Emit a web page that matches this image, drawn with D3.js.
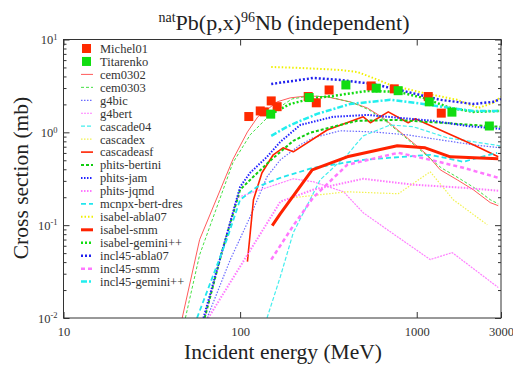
<!DOCTYPE html>
<html><head><meta charset="utf-8">
<script src="https://cdn.jsdelivr.net/npm/d3@7"></script>
<style>body{margin:0;background:#fff;} svg{display:block;} text{font-family:"Liberation Serif",serif;}</style>
</head><body>
<svg id="c" width="513" height="367"></svg>
<script>
// ---- data (energy MeV, cross section mb) ----
const michel01 = [[112,1.48],[130,1.70],[137,1.66],[150,2.18],[162,1.89],[243,2.43],[270,2.08],[319,2.86],[552,3.16],[746,2.94],[1162,2.43],[1377,1.61]];
const titarenko = [[149,1.57],[246,2.37],[397,3.24],[590,2.99],[785,2.81],[1178,2.13],[1582,1.65],[2577,1.17]];
const cem0302 = [[47,0.01],[59,0.070],[91,0.51],[110,1.01],[126,1.47],[162,2.13],[192,2.35],[240,2.47],[311,2.41],[420,2.13],[525,1.83],[646,1.43],[883,0.873],[1146,0.573],[1358,0.395],[1695,0.308],[2089,0.241],[2608,0.175],[2895,0.162]];
const cem0303 = [[49,0.01],[59,0.048],[91,0.47],[114,0.94],[142,1.43],[175,1.98],[197,2.29],[249,2.47],[320,2.41],[435,2.08],[535,1.75],[655,1.36],[895,0.83],[1161,0.545],[1376,0.415],[1718,0.324],[2118,0.253],[2608,0.188],[2895,0.170]];
const g4bic = [[65,0.01],[88,0.0426],[114,0.123],[142,0.332],[169,0.506],[219,0.734],[259,0.873],[369,1.04],[568,1.01],[883,0.94],[1358,0.83],[2089,0.734],[2972,0.681]];
const g4bert = [[63,0.01],[79,0.052],[96,0.198],[200,0.316],[259,0.294],[385,0.229],[498,0.136],[776,0.0752],[1192,0.0426],[1589,0.0506],[2895,0.0213]];
const cascade04 = [[142,0.01],[169,0.0279],[200,0.083],[284,0.308],[404,0.573],[498,0.917],[708,1.20],[955,1.15],[1489,0.873],[2972,0.716]];
const cascadex = [[200,0.198],[404,0.229],[786,0.218],[1192,0.376],[1610,0.188],[2509,0.101]];
const cascadeasf = [[110,0.0405],[119,0.188],[133,0.367],[154,0.573],[175,0.681],[200,0.617],[311,1.06],[498,1.47],[546,1.27],[690,1.66],[895,1.27],[981,1.40],[1358,1.06],[2089,0.734],[2895,0.545]];
const phitsBertini = [[63,0.01],[79,0.052],[100,0.241],[122,0.349],[150,0.506],[200,0.81],[249,0.99],[336,1.15],[460,1.33],[776,1.36],[1358,1.27],[2509,1.17],[2972,1.15]];
const phitsJam = [[62,0.01],[79,0.052],[100,0.259],[114,0.367],[142,0.545],[169,0.79],[219,1.20],[336,1.47],[525,1.54],[806,1.43],[1239,1.33],[1932,1.17],[2972,1.09]];
const phitsJqmd = [[66,0.01],[110,0.048],[169,0.179],[259,0.241],[498,0.316],[955,0.273],[1834,0.253],[2895,0.235]];
const mcnpxBertDres = [[57,0.01],[84,0.0698],[100,0.188],[125,0.259],[169,0.324],[259,0.415],[498,0.506],[1192,0.573],[1834,0.482],[2855,0.602]];
const isabelAbla07 = [[150,5.06],[219,4.94],[369,4.70],[460,4.47],[568,3.85],[708,3.24],[1089,2.66],[1695,2.24],[2230,1.83],[2711,2.08],[3000,2.41]];
const isabelSmm = [[152,0.0988],[169,0.133],[256,0.395],[404,0.545],[776,0.716],[1117,0.681],[1549,0.545],[2895,0.519]];
const isabelGemini = [[150,1.58],[192,2.02],[249,2.29],[336,2.47],[525,2.79],[786,2.73],[1089,2.35],[1549,1.83],[2089,1.66],[2972,1.70]];
const incl45Abla07 = [[150,3.32],[200,3.58],[259,3.85],[369,3.67],[568,3.32],[883,2.73],[1358,2.24],[2089,2.02],[2711,2.13],[3000,2.29]];
const incl45Smm = [[150,0.0426],[200,0.0988],[259,0.198],[404,0.447],[786,0.602],[1192,0.506],[1834,0.415],[2895,0.324]];
const incl45Gemini = [[150,0.917],[185,1.15],[219,1.33],[273,1.58],[420,2.02],[708,2.24],[1089,2.02],[1549,1.83],[2089,1.70],[2972,1.70]];

const xTicks = [10, 100, 1000, 3000];
const xTickLabels = ["10", "100", "1000", "3000"];
const yTicks = [0.01, 0.1, 1, 10];
const yTickExp = ["-2", "-1", "0", "1"];

// ---- styles ----
const pointSeries = [
  {name:"Michel01", data:michel01, color:"#ff2a00"},
  {name:"Titarenko", data:titarenko, color:"#11dd11"}
];
const lineSeries = [
  {name:"cem0302", data:cem0302, color:"#ff5a5a", w:1, dash:null},
  {name:"cem0303", data:cem0303, color:"#44e044", w:1, dash:"3,2"},
  {name:"g4bic", data:g4bic, color:"#6a6aff", w:1.2, dash:"1.5,1.5"},
  {name:"g4bert", data:g4bert, color:"#ff80ff", w:1.2, dash:"2,1"},
  {name:"cascade04", data:cascade04, color:"#44eeee", w:1.2, dash:"4,2"},
  {name:"cascadex", data:cascadex, color:"#f2f250", w:1.2, dash:"1.5,1.5"},
  {name:"cascadeasf", data:cascadeasf, color:"#ff2200", w:1.6, dash:null},
  {name:"phits-bertini", data:phitsBertini, color:"#11cc11", w:2, dash:"3,2"},
  {name:"phits-jam", data:phitsJam, color:"#2222ff", w:2, dash:"1.5,1.5"},
  {name:"phits-jqmd", data:phitsJqmd, color:"#ff77ff", w:2, dash:"1.5,1.5"},
  {name:"mcnpx-bert-dres", data:mcnpxBertDres, color:"#22e6ee", w:1.8, dash:"5,3"},
  {name:"isabel-abla07", data:isabelAbla07, color:"#f0f000", w:2, dash:"1.5,2"},
  {name:"isabel-smm", data:isabelSmm, color:"#ff2200", w:3, dash:null},
  {name:"isabel-gemini++", data:isabelGemini, color:"#11dd11", w:2.5, dash:"2,2"},
  {name:"incl45-abla07", data:incl45Abla07, color:"#2222ee", w:2.5, dash:"2,2"},
  {name:"incl45-smm", data:incl45Smm, color:"#ff77ff", w:2.5, dash:"4,3"},
  {name:"incl45-gemini++", data:incl45Gemini, color:"#22eeee", w:2.5, dash:"6,2,2,2"}
];

const svg = d3.select("#c");
const m = {l:63.5, r:501, t:39.5, b:318};
const x = d3.scaleLog().domain([10,3000]).range([m.l,m.r]);
const y = d3.scaleLog().domain([0.01,10]).range([m.b,m.t]);
const serif = "Liberation Serif";

svg.append("rect").attr("width",513).attr("height",367).attr("fill","#fff");

// clip
svg.append("defs").append("clipPath").attr("id","clip")
  .append("rect").attr("x",m.l).attr("y",m.t).attr("width",m.r-m.l).attr("height",m.b-m.t);

// lines
const line = d3.line().x(d=>x(d[0])).y(d=>y(d[1]));
const plot = svg.append("g").attr("clip-path","url(#clip)");
lineSeries.forEach(s=>{
  plot.append("path").datum(s.data).attr("d",line)
    .attr("fill","none").attr("stroke",s.color).attr("stroke-width",s.w)
    .attr("stroke-dasharray",s.dash).attr("stroke-linejoin","round");
});
// points
pointSeries.forEach(s=>{
  plot.selectAll(null).data(s.data).enter().append("rect")
    .attr("x",d=>x(d[0])-4.5).attr("y",d=>y(d[1])-4.5)
    .attr("width",9).attr("height",9).attr("fill",s.color);
});

// axes
const minor = [];
[0.01,0.1,1].forEach(b=>{for(let k=2;k<=9;k++) minor.push(b*k);});
function styleAxis(g){ g.select(".domain").remove(); g.selectAll(".tick line").attr("stroke","#333"); g.attr("font-family",null); }

svg.append("g").attr("transform",`translate(0,${m.b})`)
  .call(d3.axisBottom(x).tickValues(xTicks).tickSize(-6).tickPadding(9).tickFormat((d,i)=>xTickLabels[i]))
  .call(styleAxis)
  .selectAll("text").style("font-family",serif).style("font-size","12.5px").attr("fill","#333");
svg.append("g").attr("transform",`translate(0,${m.t})`)
  .call(d3.axisTop(x).tickValues(xTicks).tickSize(-6).tickFormat(""))
  .call(styleAxis);

const gl = svg.append("g").attr("transform",`translate(${m.l},0)`)
  .call(d3.axisLeft(y).tickValues(yTicks).tickSize(-6).tickPadding(6).tickFormat(""))
  .call(styleAxis);
gl.selectAll(".tick text").each(function(d,i){
  const t = d3.select(this).style("font-family",serif).style("font-size","12.5px").attr("fill","#333");
  t.append("tspan").text("10");
  t.append("tspan").attr("dy","-0.5em").style("font-size","8.5px").text(yTickExp[i]);
});
svg.append("g").attr("transform",`translate(${m.l},0)`)
  .call(d3.axisLeft(y).tickValues(minor).tickSize(-3).tickFormat("")).call(styleAxis);
svg.append("g").attr("transform",`translate(${m.r},0)`)
  .call(d3.axisRight(y).tickValues(yTicks).tickSize(-6).tickFormat("")).call(styleAxis);
svg.append("g").attr("transform",`translate(${m.r},0)`)
  .call(d3.axisRight(y).tickValues(minor).tickSize(-3).tickFormat("")).call(styleAxis);

// frame
svg.append("rect").attr("x",m.l).attr("y",m.t).attr("width",m.r-m.l).attr("height",m.b-m.t)
  .attr("fill","none").attr("stroke","#333").attr("stroke-width",1);

// legend
const leg = svg.append("g");
const legItems = pointSeries.map(s=>({type:"pt",...s})).concat(lineSeries.map(s=>({type:"ln",...s})));
legItems.forEach((s,i)=>{
  const yy = 48.5 + i*12.95;
  if(s.type==="pt"){
    leg.append("rect").attr("x",82).attr("y",yy-4.5).attr("width",9).attr("height",9).attr("fill",s.color);
  } else {
    leg.append("line").attr("x1",81).attr("x2",93).attr("y1",yy).attr("y2",yy)
      .attr("stroke",s.color).attr("stroke-width",s.w).attr("stroke-dasharray",s.dash);
  }
  leg.append("text").attr("x",100).attr("y",yy).attr("dy","0.35em")
    .style("font-family",serif).style("font-size","12.5px").attr("fill","#333").text(s.name);
});

// title
const title = svg.append("text").attr("x",284).attr("y",30).attr("text-anchor","middle")
  .style("font-family",serif).style("font-size","22px").attr("fill","#222");
title.append("tspan").style("font-size","14px").attr("dy","-8").text("nat");
title.append("tspan").attr("dy","8").text("Pb(p,x)");
title.append("tspan").style("font-size","14px").attr("dy","-8").text("96");
title.append("tspan").attr("dy","8").text("Nb (independent)");

// axis labels
svg.append("text").attr("x",283).attr("y",359).attr("text-anchor","middle")
  .style("font-family",serif).style("font-size","21.5px").attr("fill","#222").text("Incident energy (MeV)");
svg.append("text").attr("transform","translate(28,178) rotate(-90)").attr("text-anchor","middle")
  .style("font-family",serif).style("font-size","21.5px").attr("fill","#222").text("Cross section (mb)");
</script>
</body></html>
